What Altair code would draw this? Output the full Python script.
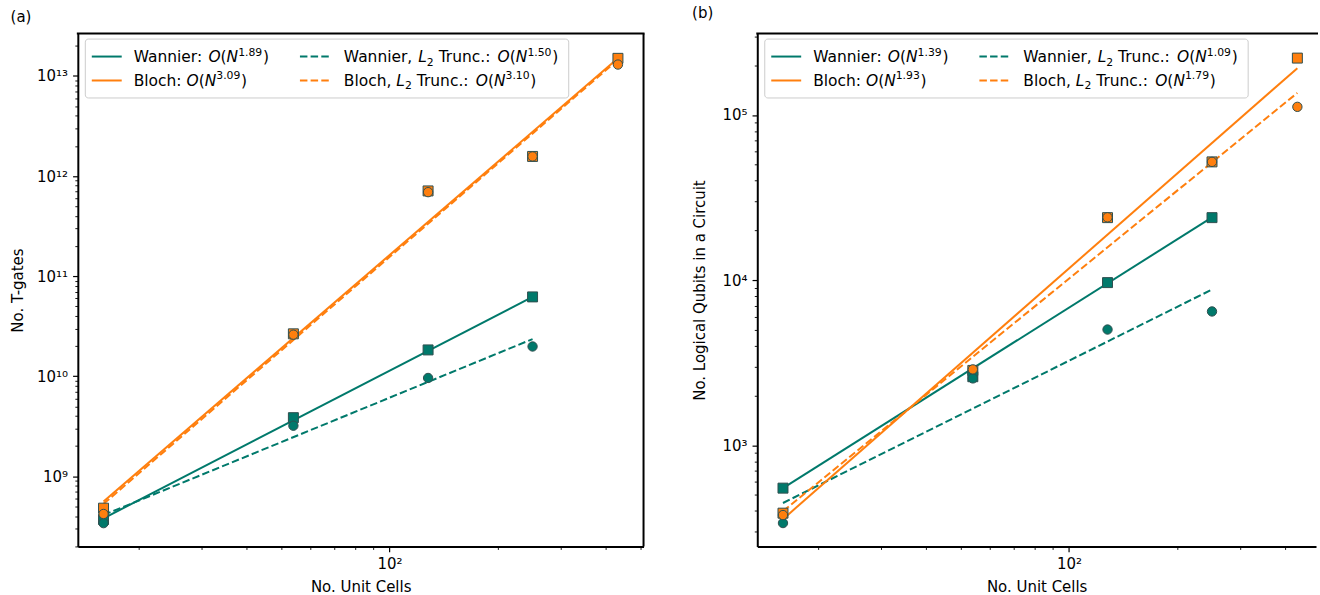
import altair as alt
import pandas as pd

# ---------------- data ----------------
N_ALL = [16, 54, 128, 250, 432]
N_WAN = [16, 54, 128, 250]

# Panel (a): number of T-gates
a_wannier = [3.7e8, 3.85e9, 1.83e10, 6.2e10]
a_wannier_l2 = [3.4e8, 3.2e9, 9.6e9, 1.98e10]
a_bloch = [4.8e8, 2.65e10, 7.1e11, 1.57e12, 1.5e13]
a_bloch_l2 = [4.2e8, 2.6e10, 6.9e11, 1.57e12, 1.3e13]
a_fit_wannier = [3.8e8, 6.2e10]        # at N = 16, 250
a_fit_wannier_l2 = [4.1e8, 2.35e10]    # at N = 16, 250
a_fit_bloch = [5.6e8, 1.5e13]          # at N = 16, 432
a_fit_bloch_l2 = [5.3e8, 1.45e13]      # at N = 16, 432
a_exponents = ["1.89", "3.09", "1.50", "3.10"]

# Panel (b): number of logical qubits
b_wannier = [550, 2.6e3, 9.66e3, 2.39e4]
b_wannier_l2 = [338, 2.54e3, 5.02e3, 6.46e3]
b_bloch = [388, 2.84e3, 2.39e4, 5.2e4, 2.21e5]
b_bloch_l2 = [378, 2.88e3, 2.4e4, 5.2e4, 1.12e5]
b_fit_wannier = [550, 2.4e4]
b_fit_wannier_l2 = [447, 8.77e3]
b_fit_bloch = [357, 1.92e5]
b_fit_bloch_l2 = [399, 1.36e5]
b_exponents = ["1.39", "1.93", "1.09", "1.79"]

FIT_X_WAN = [16, 250]
FIT_X_BLOCH = [16, 432]

# ---------------- style ----------------
TEAL = "#00796b"
ORANGE = "#ff7f0e"
EDGE = "#2f4f4f"
FONT = "DejaVu Sans"
FS = 15
LFS = 15.5
DASH = [7.5, 3.2]

SUP = str.maketrans("0123456789", "⁰¹²³⁴⁵⁶⁷⁸⁹")

CW = {' ': 0.318, ',': 0.318, '.': 0.318, ':': 0.337, '(': 0.390, ')': 0.390,
      'W': 0.989, 'a': 0.613, 'n': 0.634, 'i': 0.278, 'e': 0.615, 'r': 0.411,
      'B': 0.686, 'l': 0.278, 'o': 0.612, 'c': 0.550, 'h': 0.634, 'L': 0.557,
      'T': 0.611, 'u': 0.634, 'O': 0.787, 'N': 0.748}
for d in "0123456789":
    CW[d] = 0.636


def tw(s, fs):
    return sum(CW.get(ch, 0.6) for ch in s) * fs


def log_ticks(lo, hi):
    out = []
    for k in range(0, 15):
        for m in range(1, 10):
            v = m * 10 ** k
            if lo <= v <= hi:
                out.append(v)
    return out


def label_expr(exps):
    expr = "''"
    for e in exps:
        expr = f"datum.value == {10 ** e} ? '10{str(e).translate(SUP)}' : " + expr
    return expr


MAJOR_TEST = "abs(log(datum.value)/LN10 - round(log(datum.value)/LN10)) < 0.001"


def make_axis(values, exps, title, tpad):
    return alt.Axis(
        values=values,
        labelExpr=label_expr(exps),
        tickSize={"condition": {"test": MAJOR_TEST, "value": 5.25}, "value": 3},
        tickWidth={"condition": {"test": MAJOR_TEST, "value": 1.2}, "value": 0.9},
        labelPadding=5,
        labelOverlap=False,
        labelFlush=False,
        labelBound=False,
        grid=False,
        domainWidth=2,
        domainColor="black",
        tickColor="black",
        title=title,
        titlePadding=tpad,
    )


ONE = alt.Data(values=[{"k": 1}])


def entry_pieces(name, trunc, exp):
    p = []
    if trunc:
        p += [(name + ",", "normal", LFS, 0, 0), ("L", "italic", LFS, 0, 1),
              ("2", "normal", LFS * 0.7, 3.5, 0), ("Trunc.:", "normal", LFS, 0, 1)]
    else:
        p += [(name + ":", "normal", LFS, 0, 0)]
    p += [("O", "italic", LFS, 0, 1), ("(", "normal", LFS, 0, 0), ("N", "italic", LFS, 0, 0),
          (exp, "normal", LFS * 0.7, -6.5, 0), (")", "normal", LFS, 0, 0.15)]
    return p


def pieces_width(pieces):
    w = 0
    for t, st, fs, dy, lead in pieces:
        w += lead * tw(" ", LFS) + tw(t, fs)
    return w


def legend_layers(exps):
    entries = [("Wannier", False, exps[0], TEAL, None),
               ("Bloch", False, exps[1], ORANGE, None),
               ("Wannier", True, exps[2], TEAL, DASH),
               ("Bloch", True, exps[3], ORANGE, DASH)]
    pcs = [entry_pieces(n, t, e) for n, t, e, c, d in entries]
    widths = [pieces_width(p) for p in pcs]
    box_l = 7.5
    pad = 6.5
    h1 = box_l + pad
    t1 = h1 + 30 + 12
    col1w = max(widths[0], widths[1])
    h2 = t1 + col1w + 31
    t2 = h2 + 30 + 14
    col2w = max(widths[2], widths[3])
    box_r = t2 + col2w + pad + 4
    rows_c = [23, 47]
    layers = [alt.Chart(ONE).mark_rect(fill="white", fillOpacity=0.85, stroke="#cccccc",
                                       strokeWidth=1, cornerRadius=3).encode(
        x=alt.value(box_l), x2=alt.value(box_r), y=alt.value(5.5), y2=alt.value(64.5))]
    for i, (n, t, e, c, d) in enumerate(entries):
        hx = h1 if i < 2 else h2
        tx = t1 if i < 2 else t2
        yc = rows_c[i % 2]
        kw = {"color": c, "strokeWidth": 2}
        if d:
            kw["strokeDash"] = d
        layers.append(alt.Chart(ONE).mark_rule(**kw).encode(
            x=alt.value(hx), x2=alt.value(hx + 30), y=alt.value(yc)))
        x = tx
        for txt, st, fs, dy, lead in pcs[i]:
            x += lead * tw(" ", LFS)
            layers.append(alt.Chart(ONE).mark_text(
                align="left", baseline="alphabetic", font=FONT, fontSize=fs,
                fontStyle=st, color="black").encode(
                x=alt.value(x), y=alt.value(yc + 5.5 + dy), text=alt.value(txt)))
            x += tw(txt, fs)
    return layers


def make_panel(letter, ytitle, ytpad, xdom, ydom, W, H, xticks, yticks, yexps,
               wan, wan_l2, bl, bl_l2, fw, fw_l2, fb, fb_l2, exps, right_spine):
    xs = alt.Scale(type="log", domain=xdom, nice=False, zero=False)
    ys = alt.Scale(type="log", domain=ydom, nice=False, zero=False)
    xax = make_axis(xticks, [2], "No. Unit Cells", 8)
    yax = make_axis(yticks, yexps, ytitle, ytpad)

    def enc(df):
        return dict(x=alt.X("N:Q", scale=xs, axis=xax), y=alt.Y("v:Q", scale=ys, axis=yax))

    def frame(xv, yv):
        return pd.DataFrame({"N": xv, "v": yv})

    layers = []
    for xv, yv, col, dash in [(FIT_X_WAN, fw, TEAL, None), (FIT_X_WAN, fw_l2, TEAL, DASH),
                              (FIT_X_BLOCH, fb, ORANGE, None), (FIT_X_BLOCH, fb_l2, ORANGE, DASH)]:
        kw = {"color": col, "strokeWidth": 2, "clip": True}
        if dash:
            kw["strokeDash"] = dash
        df = frame(xv, yv)
        layers.append(alt.Chart(df).mark_line(**kw).encode(**enc(df)))

    for xv, yv, col, shape, size in [(N_ALL, bl, ORANGE, "square", 100),
                                     (N_WAN, wan, TEAL, "square", 100),
                                     (N_WAN, wan_l2, TEAL, "circle", 88),
                                     (N_ALL, bl_l2, ORANGE, "circle", 88)]:
        df = frame(xv, yv)
        layers.append(alt.Chart(df).mark_point(
            shape=shape, filled=True, fill=col, stroke=EDGE, strokeWidth=1,
            size=size, opacity=1, fillOpacity=1, strokeOpacity=1, clip=True).encode(**enc(df)))

    layers.append(alt.Chart(ONE).mark_rule(color="black", strokeWidth=2).encode(
        x=alt.value(-1), x2=alt.value(W + (1 if right_spine else 2)), y=alt.value(0)))
    if right_spine:
        layers.append(alt.Chart(ONE).mark_rule(color="black", strokeWidth=2).encode(
            x=alt.value(W), y=alt.value(0), y2=alt.value(H)))

    layers += legend_layers(exps)

    return alt.layer(*layers).properties(
        width=W, height=H,
        title=alt.TitleParams(letter, anchor="start", frame="bounds", offset=8,
                              fontSize=FS, fontWeight="normal", font=FONT, color="black"))


XDOM = [13.57, 509]
H = 514
pa = make_panel("(a)", "No. T-gates", 11, XDOM, [1.99e8, 2.65e13], 567, H,
                log_ticks(13.57, 509), log_ticks(1.99e8, 2.65e13), [9, 10, 11, 12, 13],
                a_wannier, a_wannier_l2, a_bloch, a_bloch_l2,
                a_fit_wannier, a_fit_wannier_l2, a_fit_bloch, a_fit_bloch_l2, a_exponents, True)
pb = make_panel("(b)", "No. Logical Qubits in a Circuit", 15, [13.57, 486.8], [244, 3.11e5], 560, H,
                log_ticks(13.57, 486.8), log_ticks(244, 3.11e5), [3, 4, 5],
                b_wannier, b_wannier_l2, b_bloch, b_bloch_l2,
                b_fit_wannier, b_fit_wannier_l2, b_fit_bloch, b_fit_bloch_l2, b_exponents, False)

chart = alt.hconcat(pa, pb, spacing=114, bounds="flush").properties(
    padding={"left": 10, "top": 5, "right": 0, "bottom": 0}
).configure_axis(
    labelFont=FONT, titleFont=FONT, labelFontSize=FS, titleFontSize=FS,
    titleFontWeight="normal", labelColor="black", titleColor="black"
).configure_view(stroke="transparent")

chart.save("out.html", embed_options={"renderer": "svg", "actions": False})
